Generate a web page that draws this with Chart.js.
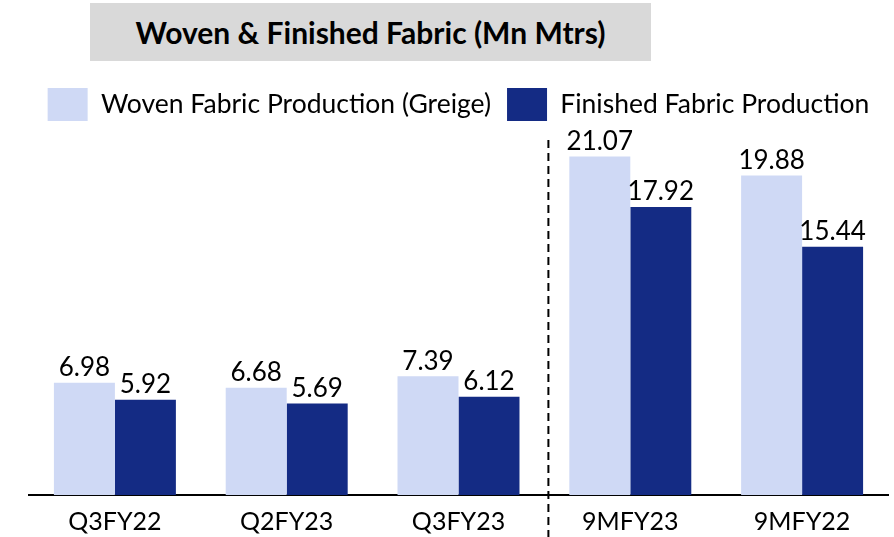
<!DOCTYPE html>
<html>
<head>
<meta charset="utf-8">
<script src="https://cdn.jsdelivr.net/npm/chart.js@4"></script>
<style>
  html, body { margin: 0; padding: 0; background: #fff; }
  #wrap { position: relative; width: 894px; height: 537px; }
  #title {
    position: absolute; left: 90px; top: 3px; width: 561px; height: 58px;
    background: #d9d9d9; font-family: Lato, sans-serif; font-weight: bold;
    font-size: 30px; line-height: 58px; text-align: center; color: #000;
  }
</style>
</head>
<body>
<div id="wrap">
  <div id="title">Woven &amp; Finished Fabric (Mn Mtrs)</div>
  <canvas id="myChart" width="894" height="537"></canvas>
</div>
<script>
// chart data
var categories = ['Q3FY22', 'Q2FY23', 'Q3FY23', '9MFY23', '9MFY22'];
var wovenValues = [6.98, 6.68, 7.39, 21.07, 19.88];
var finishedValues = [5.92, 5.69, 6.12, 17.92, 15.44];
var seriesNames = ['Woven Fabric Production (Greige)', 'Finished Fabric Production'];

var FONT = 'Lato, sans-serif';

// value labels above the bars
var barLabels = {
  id: 'barLabels',
  afterDatasetsDraw: function(chart) {
    var ctx = chart.ctx;
    ctx.save();
    ctx.font = '26px ' + FONT;
    ctx.fillStyle = '#000';
    ctx.textAlign = 'center';
    ctx.textBaseline = 'bottom';
    chart.data.datasets.forEach(function(ds, i) {
      chart.getDatasetMeta(i).data.forEach(function(bar, j) {
        ctx.fillText(ds.data[j].toFixed(2), bar.x, bar.y - 2);
      });
    });
    ctx.restore();
  }
};

// dashed separator between quarters and 9M figures
var separator = {
  id: 'separator',
  afterDraw: function(chart) {
    var x = chart.scales.x;
    var px = (x.getPixelForValue(2) + x.getPixelForValue(3)) / 2 + 4;
    var ctx = chart.ctx;
    ctx.save();
    ctx.strokeStyle = '#000';
    ctx.lineWidth = 2;
    ctx.setLineDash([8, 5]);
    ctx.beginPath();
    ctx.moveTo(px, 140);
    ctx.lineTo(px, chart.height);
    ctx.stroke();
    ctx.restore();
  }
};

var ctx = document.getElementById('myChart').getContext('2d');
var chart = new Chart(ctx, {
  type: 'bar',
  data: {
    labels: categories,
    datasets: [{
      label: seriesNames[0],
      backgroundColor: '#cfd9f5',
      data: wovenValues
    }, {
      label: seriesNames[1],
      backgroundColor: '#142b84',
      data: finishedValues
    }]
  },
  options: {
    responsive: false,
    animation: false,
    datasets: { bar: { categoryPercentage: 0.71, barPercentage: 1.0 } },
    layout: { padding: { top: 72, left: 29, right: 6, bottom: -4 } },
    plugins: {
      tooltip: { enabled: false },
      legend: {
        position: 'top',
        labels: {
          font: { family: FONT, size: 26.5 },
          color: '#000',
          boxWidth: 40,
          boxHeight: 33,
          padding: 16
        }
      }
    },
    scales: {
      x: {
        grid: { display: false },
        border: { display: true, color: '#000', width: 2 },
        ticks: { font: { family: FONT, size: 25 }, color: '#000', padding: 4 }
      },
      y: {
        display: false,
        min: 0,
        max: 22.65
      }
    }
  },
  plugins: [barLabels, separator]
});
</script>
</body>
</html>
